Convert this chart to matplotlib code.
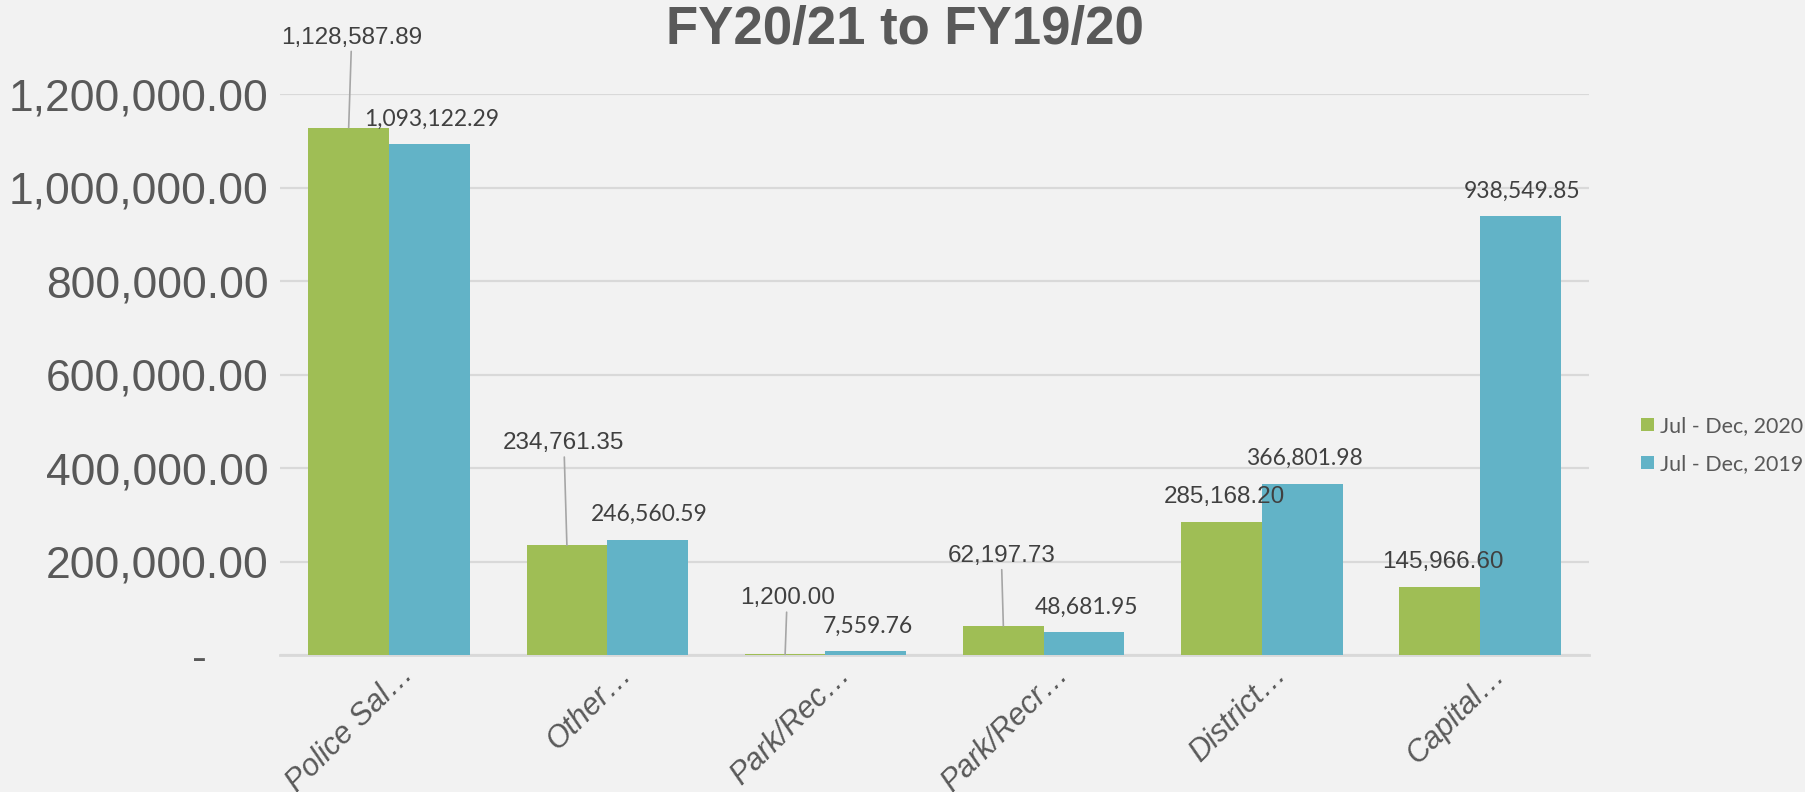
import numpy as np
import matplotlib.pyplot as plt
import matplotlib.transforms as mtransforms
from matplotlib.ticker import FuncFormatter

# categories and series
categories = ['Police Sal\u2026', 'Other\u2026', 'Park/Rec\u2026', 'Park/Recr\u2026', 'District\u2026', 'Capital\u2026']
fy2020 = [1128587.89, 234761.35, 1200.00, 62197.73, 285168.20, 145966.60]
fy2019 = [1093122.29, 246560.59, 7559.76, 48681.95, 366801.98, 938549.85]
series_names = ['Jul - Dec, 2020', 'Jul - Dec, 2019']

GREEN = '#9FBE55'
BLUE = '#62B3C7'
GREY = '#595959'
BG = '#F2F2F2'

# label placement for the green bars (pixels), some were dragged up with leader lines
green_dx = [3, -3, 2, -2, 3, 3]
green_dy = [90, 102, 56, 70, 25, 25]
green_leader = [True, True, True, True, False, False]

fig = plt.figure(figsize=(18.06, 7.92), dpi=100, facecolor=BG)
ax = fig.add_axes([0.155, 0.173, 0.725, 0.708])
ax.set_facecolor(BG)

x = np.arange(len(categories))
w = 0.37
b1 = ax.bar(x - w/2, fy2020, w, color=GREEN, label=series_names[0], zorder=3)
b2 = ax.bar(x + w/2, fy2019, w, color=BLUE, label=series_names[1], zorder=3)

ax.set_xlim(-0.5, len(categories) - 0.5)
ax.set_ylim(0, 1200000)
ax.set_yticks(np.arange(0, 1200001, 200000))

def fmt(v, pos):
    if v == 0:
        return '-     '
    return f'{v:,.2f}'

ax.yaxis.set_major_formatter(FuncFormatter(fmt))
ax.tick_params(axis='y', length=0, pad=8, labelsize=32, labelcolor=GREY)
for t in ax.get_yticklabels():
    t.set_fontfamily('Liberation Sans')

ax.set_xticks(x)
ax.set_xticklabels(categories, rotation=45, ha='right', va='center',
                   rotation_mode='anchor', fontsize=22, color=GREY,
                   fontfamily='Liberation Sans', fontstyle='italic')
ax.tick_params(axis='x', length=0, pad=11)
shift = mtransforms.ScaledTranslation(20 / 100, 0, fig.dpi_scale_trans)
for t in ax.get_xticklabels():
    t.set_transform(t.get_transform() + shift)

ax.grid(axis='y', color='#D9D9D9', linewidth=1.6, zorder=0)
ax.set_axisbelow(True)
for s in ['top', 'right', 'left']:
    ax.spines[s].set_visible(False)
ax.spines['bottom'].set_color('#D9D9D9')
ax.spines['bottom'].set_linewidth(2)

for i, v in enumerate(fy2020):
    kw = {}
    if green_leader[i]:
        kw['arrowprops'] = dict(arrowstyle='-', color='#A6A6A6', lw=1.2,
                                shrinkA=0, shrinkB=0)
    ax.annotate(f'{v:,.2f}', xy=(x[i] - w/2, v), xytext=(green_dx[i], green_dy[i]),
                textcoords='offset pixels', ha='center', va='center',
                fontsize=17.5, color='#404040', fontfamily='Liberation Sans',
                annotation_clip=False, zorder=5, **kw)

for i, v in enumerate(fy2019):
    ax.annotate(f'{v:,.2f}', xy=(x[i] + w/2, v), xytext=(2, 25),
                textcoords='offset pixels', ha='center', va='center',
                fontsize=16.5, color='#404040', fontfamily='Lato',
                annotation_clip=False, zorder=5)

fig.text(0.501, 0.962, 'FY20/21 to FY19/20', ha='center', va='center',
         fontsize=38, fontweight='bold', color=GREY, fontfamily='Liberation Sans')

leg = fig.legend(handles=[b1, b2], loc='center left', bbox_to_anchor=(0.904, 0.438),
                 frameon=False, handlelength=0.6, handleheight=0.6,
                 handletextpad=0.25, labelspacing=0.85, borderaxespad=0,
                 prop={'family': 'Lato', 'size': 15.5})
for t in leg.get_texts():
    t.set_color(GREY)

fig.savefig('out.png', dpi=100, facecolor=BG)
